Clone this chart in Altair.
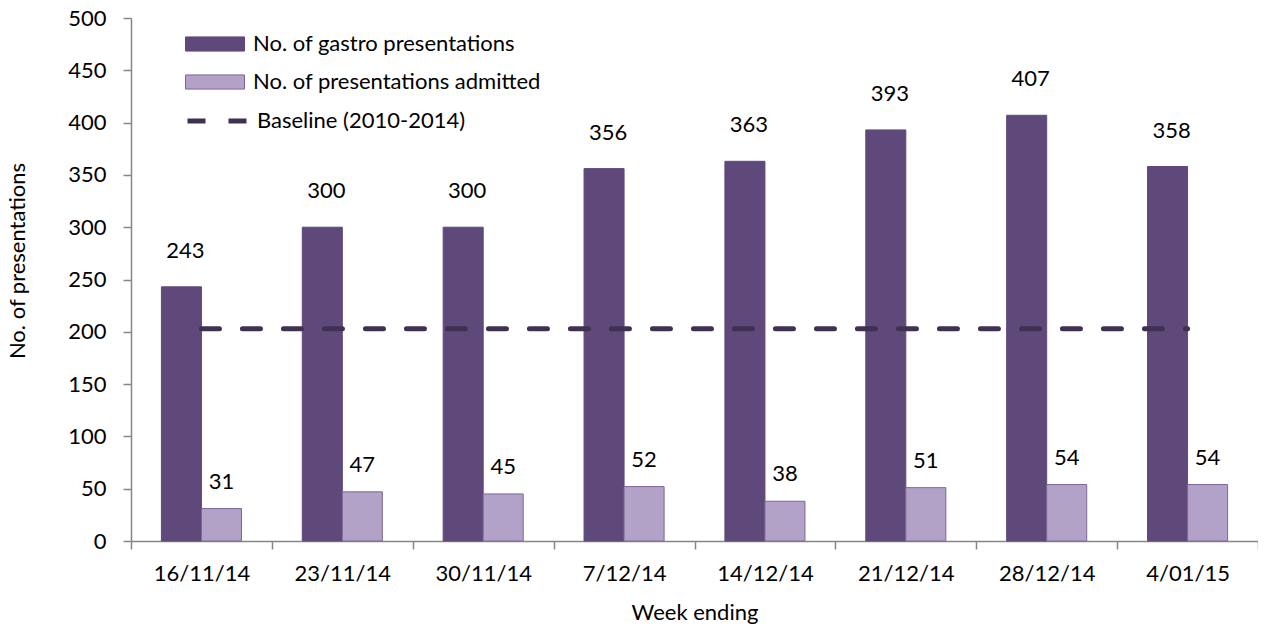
import altair as alt
import pandas as pd

weeks = ["16/11/14", "23/11/14", "30/11/14", "7/12/14", "14/12/14", "21/12/14", "28/12/14", "4/01/15"]
gastro = [243, 300, 300, 356, 363, 393, 407, 358]
admitted = [31, 47, 45, 52, 38, 51, 54, 54]
baseline = 203
series_names = ["No. of gastro presentations", "No. of presentations admitted"]
baseline_name = "Baseline (2010-2014)"

bars_df = pd.DataFrame({
    "week": weeks * 2,
    "series": [series_names[0]] * len(weeks) + [series_names[1]] * len(weeks),
    "value": gastro + admitted,
})
base_df = pd.DataFrame({"start": [weeks[0]], "end": [weeks[-1]], "value": [baseline], "label": [baseline_name]})

FONT = "Lato"
AX = "#868686"
DARK = "#5F497A"
LIGHT = "#B3A2C7"
LINE = "#403152"

xscale = alt.Scale(domain=weeks, paddingInner=0, paddingOuter=0)
xoff = alt.Scale(domain=series_names, paddingInner=0, paddingOuter=0.76)
yscale = alt.Scale(domain=[0, 500], nice=False)

x_axis = alt.Axis(title="Week ending", labelAngle=0, tickBand="extent", labelFont=FONT, labelFontSize=22,
                  labelColor="black", labelPadding=14, tickSize=8, tickColor=AX, tickWidth=1.5,
                  domainColor=AX, domainWidth=1.5, titleFont=FONT, titleFontSize=22, titleFontWeight="normal",
                  titleColor="black", titlePadding=18, grid=False)
y_axis = alt.Axis(title="No. of presentations", values=list(range(0, 501, 50)), labelFont=FONT, labelFontSize=22,
                  labelColor="black", labelPadding=17, tickSize=8, tickColor=AX, tickWidth=1.5,
                  domainColor=AX, domainWidth=1.5, titleFont=FONT, titleFontSize=22, titleFontWeight="normal",
                  titleColor="black", titleX=-114, titleY=242.5, titleAngle=270, titleAlign="center",
                  titleBaseline="middle", grid=False)

X = alt.X("week:N", scale=xscale, axis=x_axis)
Y = alt.Y("value:Q", scale=yscale, axis=y_axis)
XO = alt.XOffset("series:N", scale=xoff)

bars = alt.Chart(bars_df).mark_bar(strokeWidth=1).encode(
    x=X, y=Y, xOffset=XO,
    color=alt.Color("series:N", scale=alt.Scale(domain=series_names, range=[DARK, LIGHT]),
                    legend=alt.Legend(title=None, orient="none", legendX=54, legendY=11,
                                      symbolType="M-1,-0.24H1V0.24H-1Z", symbolSize=3481, clipHeight=30,
                                      rowPadding=8, labelFont=FONT, labelFontSize=22, labelColor="black",
                                      labelOffset=8, labelLimit=600, padding=0, symbolStrokeWidth=1,
                                      symbolStrokeColor=DARK, symbolOpacity=1)),
    stroke=alt.Stroke("series:N", scale=alt.Scale(domain=series_names, range=[DARK, "#7B6796"]), legend=None),
)

g_text = alt.Chart(bars_df).transform_filter(alt.datum.series == series_names[0]).mark_text(
    dy=-36, dx=4, font=FONT, fontSize=22, color="black", baseline="middle").encode(
    x=X, y=Y, xOffset=XO, text="value:Q")
a_text = alt.Chart(bars_df).transform_filter(alt.datum.series == series_names[1]).mark_text(
    dy=-27, font=FONT, fontSize=22, color="black", baseline="middle").encode(
    x=X, y=Y, xOffset=XO, text="value:Q")

rule = alt.Chart(base_df).mark_rule(color=LINE, strokeWidth=5, strokeCap="round").encode(
    x=alt.X("start:N", scale=xscale, axis=x_axis),
    x2="end:N",
    y=alt.Y("value:Q", scale=yscale, axis=y_axis),
    strokeDash=alt.StrokeDash("label:N", scale=alt.Scale(domain=[baseline_name], range=[[18, 23]]),
                              legend=alt.Legend(title=None, orient="none", legendX=54, legendY=88,
                                                symbolType="stroke", symbolSize=3481, symbolStrokeWidth=5,
                                                symbolStrokeColor=LINE, clipHeight=30, labelFont=FONT,
                                                labelFontSize=22, labelColor="black", labelOffset=8,
                                                labelLimit=600, padding=0)),
)

chart = alt.layer(bars, rule, g_text, a_text).properties(
    width=1127, height=523,
    autosize=alt.AutoSizeParams(type="none"),
    padding={"left": 123, "top": 10, "right": 0, "bottom": 83},
    background="white",
).configure_view(stroke=None)

chart.save("out.html", embed_options={"renderer": "svg", "actions": False})
